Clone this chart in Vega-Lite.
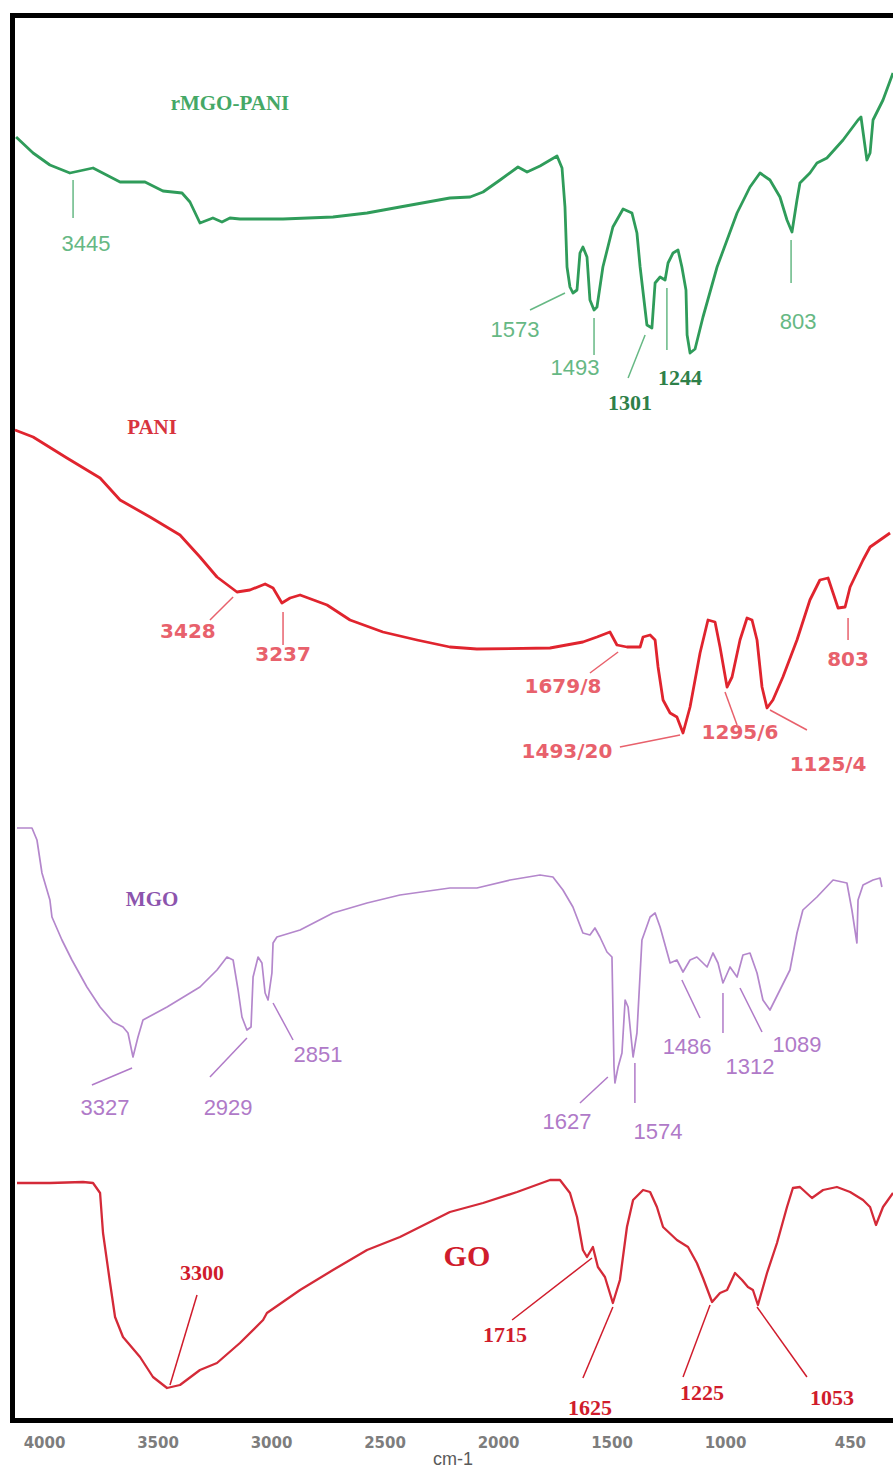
{
  "$schema": "https://vega.github.io/schema/vega-lite/v6.json",
  "width": 881,
  "height": 1405,
  "autosize": {"type": "none"},
  "padding": {"left": 12, "top": 15, "right": 0, "bottom": 48},
  "background": "white",
  "config": {
    "view": {"stroke": null},
    "axisY": {"labels": false, "ticks": false, "grid": false, "domainColor": "#000000", "domainWidth": 5, "domainCap": "square"}
  },
  "resolve": {"axis": {"x": "independent"}},
  "datasets": {
    "spectra": [
      {"sample": "rMGO-PANI", "wavenumber": 4123, "T": 128.3},
      {"sample": "rMGO-PANI", "wavenumber": 4048, "T": 126.7},
      {"sample": "rMGO-PANI", "wavenumber": 3974, "T": 125.5},
      {"sample": "rMGO-PANI", "wavenumber": 3886, "T": 124.7},
      {"sample": "rMGO-PANI", "wavenumber": 3784, "T": 125.2},
      {"sample": "rMGO-PANI", "wavenumber": 3665, "T": 123.8},
      {"sample": "rMGO-PANI", "wavenumber": 3555, "T": 123.8},
      {"sample": "rMGO-PANI", "wavenumber": 3476, "T": 122.9},
      {"sample": "rMGO-PANI", "wavenumber": 3392, "T": 122.7},
      {"sample": "rMGO-PANI", "wavenumber": 3357, "T": 121.8},
      {"sample": "rMGO-PANI", "wavenumber": 3313, "T": 119.7},
      {"sample": "rMGO-PANI", "wavenumber": 3256, "T": 120.2},
      {"sample": "rMGO-PANI", "wavenumber": 3216, "T": 119.8},
      {"sample": "rMGO-PANI", "wavenumber": 3181, "T": 120.2},
      {"sample": "rMGO-PANI", "wavenumber": 3137, "T": 120.1},
      {"sample": "rMGO-PANI", "wavenumber": 2947, "T": 120.1},
      {"sample": "rMGO-PANI", "wavenumber": 2727, "T": 120.3},
      {"sample": "rMGO-PANI", "wavenumber": 2577, "T": 120.7},
      {"sample": "rMGO-PANI", "wavenumber": 2432, "T": 121.3},
      {"sample": "rMGO-PANI", "wavenumber": 2212, "T": 122.2},
      {"sample": "rMGO-PANI", "wavenumber": 2123, "T": 122.3},
      {"sample": "rMGO-PANI", "wavenumber": 2066, "T": 122.8},
      {"sample": "rMGO-PANI", "wavenumber": 1991, "T": 124.0},
      {"sample": "rMGO-PANI", "wavenumber": 1912, "T": 125.3},
      {"sample": "rMGO-PANI", "wavenumber": 1872, "T": 124.8},
      {"sample": "rMGO-PANI", "wavenumber": 1815, "T": 125.4},
      {"sample": "rMGO-PANI", "wavenumber": 1740, "T": 126.4},
      {"sample": "rMGO-PANI", "wavenumber": 1718, "T": 125.2},
      {"sample": "rMGO-PANI", "wavenumber": 1705, "T": 121.3},
      {"sample": "rMGO-PANI", "wavenumber": 1696, "T": 115.3},
      {"sample": "rMGO-PANI", "wavenumber": 1683, "T": 113.3},
      {"sample": "rMGO-PANI", "wavenumber": 1670, "T": 112.7},
      {"sample": "rMGO-PANI", "wavenumber": 1652, "T": 113.0},
      {"sample": "rMGO-PANI", "wavenumber": 1639, "T": 116.7},
      {"sample": "rMGO-PANI", "wavenumber": 1626, "T": 117.3},
      {"sample": "rMGO-PANI", "wavenumber": 1608, "T": 116.3},
      {"sample": "rMGO-PANI", "wavenumber": 1595, "T": 112.0},
      {"sample": "rMGO-PANI", "wavenumber": 1577, "T": 111.0},
      {"sample": "rMGO-PANI", "wavenumber": 1564, "T": 111.3},
      {"sample": "rMGO-PANI", "wavenumber": 1538, "T": 115.3},
      {"sample": "rMGO-PANI", "wavenumber": 1494, "T": 119.3},
      {"sample": "rMGO-PANI", "wavenumber": 1449, "T": 121.1},
      {"sample": "rMGO-PANI", "wavenumber": 1410, "T": 120.7},
      {"sample": "rMGO-PANI", "wavenumber": 1388, "T": 118.7},
      {"sample": "rMGO-PANI", "wavenumber": 1374, "T": 115.3},
      {"sample": "rMGO-PANI", "wavenumber": 1344, "T": 109.5},
      {"sample": "rMGO-PANI", "wavenumber": 1322, "T": 109.2},
      {"sample": "rMGO-PANI", "wavenumber": 1308, "T": 113.7},
      {"sample": "rMGO-PANI", "wavenumber": 1286, "T": 114.3},
      {"sample": "rMGO-PANI", "wavenumber": 1264, "T": 114.0},
      {"sample": "rMGO-PANI", "wavenumber": 1251, "T": 115.7},
      {"sample": "rMGO-PANI", "wavenumber": 1229, "T": 116.7},
      {"sample": "rMGO-PANI", "wavenumber": 1207, "T": 117.0},
      {"sample": "rMGO-PANI", "wavenumber": 1190, "T": 115.3},
      {"sample": "rMGO-PANI", "wavenumber": 1172, "T": 113.0},
      {"sample": "rMGO-PANI", "wavenumber": 1167, "T": 108.5},
      {"sample": "rMGO-PANI", "wavenumber": 1154, "T": 106.7},
      {"sample": "rMGO-PANI", "wavenumber": 1132, "T": 107.1},
      {"sample": "rMGO-PANI", "wavenumber": 1097, "T": 110.3},
      {"sample": "rMGO-PANI", "wavenumber": 1035, "T": 115.3},
      {"sample": "rMGO-PANI", "wavenumber": 947, "T": 120.7},
      {"sample": "rMGO-PANI", "wavenumber": 890, "T": 123.3},
      {"sample": "rMGO-PANI", "wavenumber": 846, "T": 124.7},
      {"sample": "rMGO-PANI", "wavenumber": 802, "T": 124.0},
      {"sample": "rMGO-PANI", "wavenumber": 758, "T": 122.3},
      {"sample": "rMGO-PANI", "wavenumber": 727, "T": 120.0},
      {"sample": "rMGO-PANI", "wavenumber": 705, "T": 118.8},
      {"sample": "rMGO-PANI", "wavenumber": 683, "T": 122.0},
      {"sample": "rMGO-PANI", "wavenumber": 670, "T": 123.7},
      {"sample": "rMGO-PANI", "wavenumber": 626, "T": 124.7},
      {"sample": "rMGO-PANI", "wavenumber": 595, "T": 125.7},
      {"sample": "rMGO-PANI", "wavenumber": 551, "T": 126.2},
      {"sample": "rMGO-PANI", "wavenumber": 480, "T": 128.0},
      {"sample": "rMGO-PANI", "wavenumber": 414, "T": 130.0},
      {"sample": "rMGO-PANI", "wavenumber": 401, "T": 130.3},
      {"sample": "rMGO-PANI", "wavenumber": 375, "T": 126.0},
      {"sample": "rMGO-PANI", "wavenumber": 361, "T": 126.7},
      {"sample": "rMGO-PANI", "wavenumber": 348, "T": 130.0},
      {"sample": "rMGO-PANI", "wavenumber": 304, "T": 132.0},
      {"sample": "rMGO-PANI", "wavenumber": 260, "T": 134.7},

      {"sample": "PANI", "wavenumber": 4128, "T": 99.0},
      {"sample": "PANI", "wavenumber": 4048, "T": 98.3},
      {"sample": "PANI", "wavenumber": 3899, "T": 96.2},
      {"sample": "PANI", "wavenumber": 3753, "T": 94.2},
      {"sample": "PANI", "wavenumber": 3665, "T": 92.0},
      {"sample": "PANI", "wavenumber": 3533, "T": 90.3},
      {"sample": "PANI", "wavenumber": 3401, "T": 88.5},
      {"sample": "PANI", "wavenumber": 3313, "T": 86.3},
      {"sample": "PANI", "wavenumber": 3238, "T": 84.3},
      {"sample": "PANI", "wavenumber": 3150, "T": 82.8},
      {"sample": "PANI", "wavenumber": 3093, "T": 83.0},
      {"sample": "PANI", "wavenumber": 3026, "T": 83.6},
      {"sample": "PANI", "wavenumber": 2991, "T": 83.2},
      {"sample": "PANI", "wavenumber": 2952, "T": 81.7},
      {"sample": "PANI", "wavenumber": 2916, "T": 82.2},
      {"sample": "PANI", "wavenumber": 2872, "T": 82.5},
      {"sample": "PANI", "wavenumber": 2753, "T": 81.5},
      {"sample": "PANI", "wavenumber": 2652, "T": 80.0},
      {"sample": "PANI", "wavenumber": 2507, "T": 78.8},
      {"sample": "PANI", "wavenumber": 2357, "T": 78.0},
      {"sample": "PANI", "wavenumber": 2212, "T": 77.3},
      {"sample": "PANI", "wavenumber": 2093, "T": 77.1},
      {"sample": "PANI", "wavenumber": 1771, "T": 77.2},
      {"sample": "PANI", "wavenumber": 1626, "T": 77.8},
      {"sample": "PANI", "wavenumber": 1564, "T": 78.3},
      {"sample": "PANI", "wavenumber": 1507, "T": 78.8},
      {"sample": "PANI", "wavenumber": 1476, "T": 77.5},
      {"sample": "PANI", "wavenumber": 1432, "T": 77.3},
      {"sample": "PANI", "wavenumber": 1374, "T": 77.3},
      {"sample": "PANI", "wavenumber": 1361, "T": 78.3},
      {"sample": "PANI", "wavenumber": 1330, "T": 78.5},
      {"sample": "PANI", "wavenumber": 1308, "T": 78.0},
      {"sample": "PANI", "wavenumber": 1295, "T": 75.3},
      {"sample": "PANI", "wavenumber": 1273, "T": 72.0},
      {"sample": "PANI", "wavenumber": 1242, "T": 70.7},
      {"sample": "PANI", "wavenumber": 1212, "T": 70.3},
      {"sample": "PANI", "wavenumber": 1185, "T": 68.7},
      {"sample": "PANI", "wavenumber": 1154, "T": 71.3},
      {"sample": "PANI", "wavenumber": 1110, "T": 76.7},
      {"sample": "PANI", "wavenumber": 1075, "T": 80.0},
      {"sample": "PANI", "wavenumber": 1044, "T": 79.8},
      {"sample": "PANI", "wavenumber": 1022, "T": 77.3},
      {"sample": "PANI", "wavenumber": 991, "T": 73.3},
      {"sample": "PANI", "wavenumber": 969, "T": 74.3},
      {"sample": "PANI", "wavenumber": 934, "T": 78.0},
      {"sample": "PANI", "wavenumber": 903, "T": 80.2},
      {"sample": "PANI", "wavenumber": 881, "T": 80.0},
      {"sample": "PANI", "wavenumber": 859, "T": 78.0},
      {"sample": "PANI", "wavenumber": 837, "T": 73.3},
      {"sample": "PANI", "wavenumber": 815, "T": 71.2},
      {"sample": "PANI", "wavenumber": 789, "T": 72.0},
      {"sample": "PANI", "wavenumber": 745, "T": 74.3},
      {"sample": "PANI", "wavenumber": 683, "T": 78.0},
      {"sample": "PANI", "wavenumber": 626, "T": 82.0},
      {"sample": "PANI", "wavenumber": 582, "T": 84.0},
      {"sample": "PANI", "wavenumber": 546, "T": 84.2},
      {"sample": "PANI", "wavenumber": 524, "T": 82.7},
      {"sample": "PANI", "wavenumber": 502, "T": 81.2},
      {"sample": "PANI", "wavenumber": 471, "T": 81.3},
      {"sample": "PANI", "wavenumber": 449, "T": 83.3},
      {"sample": "PANI", "wavenumber": 392, "T": 86.0},
      {"sample": "PANI", "wavenumber": 361, "T": 87.3},
      {"sample": "PANI", "wavenumber": 317, "T": 88.0},
      {"sample": "PANI", "wavenumber": 273, "T": 88.7},

      {"sample": "MGO", "wavenumber": 4119, "T": 59.2},
      {"sample": "MGO", "wavenumber": 4053, "T": 59.2},
      {"sample": "MGO", "wavenumber": 4031, "T": 58.0},
      {"sample": "MGO", "wavenumber": 4009, "T": 54.7},
      {"sample": "MGO", "wavenumber": 3974, "T": 52.0},
      {"sample": "MGO", "wavenumber": 3965, "T": 50.3},
      {"sample": "MGO", "wavenumber": 3921, "T": 48.0},
      {"sample": "MGO", "wavenumber": 3877, "T": 46.0},
      {"sample": "MGO", "wavenumber": 3811, "T": 43.3},
      {"sample": "MGO", "wavenumber": 3753, "T": 41.3},
      {"sample": "MGO", "wavenumber": 3696, "T": 39.8},
      {"sample": "MGO", "wavenumber": 3652, "T": 39.3},
      {"sample": "MGO", "wavenumber": 3630, "T": 38.7},
      {"sample": "MGO", "wavenumber": 3608, "T": 36.3},
      {"sample": "MGO", "wavenumber": 3586, "T": 38.3},
      {"sample": "MGO", "wavenumber": 3564, "T": 40.0},
      {"sample": "MGO", "wavenumber": 3458, "T": 41.3},
      {"sample": "MGO", "wavenumber": 3313, "T": 43.3},
      {"sample": "MGO", "wavenumber": 3238, "T": 45.0},
      {"sample": "MGO", "wavenumber": 3194, "T": 46.3},
      {"sample": "MGO", "wavenumber": 3167, "T": 46.0},
      {"sample": "MGO", "wavenumber": 3145, "T": 43.0},
      {"sample": "MGO", "wavenumber": 3128, "T": 40.3},
      {"sample": "MGO", "wavenumber": 3106, "T": 39.0},
      {"sample": "MGO", "wavenumber": 3088, "T": 39.3},
      {"sample": "MGO", "wavenumber": 3079, "T": 44.3},
      {"sample": "MGO", "wavenumber": 3057, "T": 46.3},
      {"sample": "MGO", "wavenumber": 3040, "T": 45.7},
      {"sample": "MGO", "wavenumber": 3026, "T": 42.7},
      {"sample": "MGO", "wavenumber": 3013, "T": 42.0},
      {"sample": "MGO", "wavenumber": 2996, "T": 44.7},
      {"sample": "MGO", "wavenumber": 2991, "T": 47.7},
      {"sample": "MGO", "wavenumber": 2974, "T": 48.3},
      {"sample": "MGO", "wavenumber": 2872, "T": 49.0},
      {"sample": "MGO", "wavenumber": 2727, "T": 50.7},
      {"sample": "MGO", "wavenumber": 2577, "T": 51.7},
      {"sample": "MGO", "wavenumber": 2432, "T": 52.5},
      {"sample": "MGO", "wavenumber": 2212, "T": 53.2},
      {"sample": "MGO", "wavenumber": 2093, "T": 53.2},
      {"sample": "MGO", "wavenumber": 1947, "T": 54.0},
      {"sample": "MGO", "wavenumber": 1815, "T": 54.5},
      {"sample": "MGO", "wavenumber": 1758, "T": 54.3},
      {"sample": "MGO", "wavenumber": 1714, "T": 53.0},
      {"sample": "MGO", "wavenumber": 1670, "T": 51.3},
      {"sample": "MGO", "wavenumber": 1626, "T": 48.7},
      {"sample": "MGO", "wavenumber": 1595, "T": 48.5},
      {"sample": "MGO", "wavenumber": 1573, "T": 49.2},
      {"sample": "MGO", "wavenumber": 1551, "T": 48.3},
      {"sample": "MGO", "wavenumber": 1520, "T": 46.8},
      {"sample": "MGO", "wavenumber": 1498, "T": 46.3},
      {"sample": "MGO", "wavenumber": 1494, "T": 41.3},
      {"sample": "MGO", "wavenumber": 1489, "T": 35.3},
      {"sample": "MGO", "wavenumber": 1485, "T": 33.7},
      {"sample": "MGO", "wavenumber": 1471, "T": 35.3},
      {"sample": "MGO", "wavenumber": 1454, "T": 36.7},
      {"sample": "MGO", "wavenumber": 1440, "T": 42.0},
      {"sample": "MGO", "wavenumber": 1427, "T": 41.3},
      {"sample": "MGO", "wavenumber": 1405, "T": 36.3},
      {"sample": "MGO", "wavenumber": 1388, "T": 38.7},
      {"sample": "MGO", "wavenumber": 1366, "T": 48.0},
      {"sample": "MGO", "wavenumber": 1330, "T": 50.3},
      {"sample": "MGO", "wavenumber": 1308, "T": 50.7},
      {"sample": "MGO", "wavenumber": 1286, "T": 49.3},
      {"sample": "MGO", "wavenumber": 1242, "T": 45.7},
      {"sample": "MGO", "wavenumber": 1212, "T": 46.0},
      {"sample": "MGO", "wavenumber": 1185, "T": 44.8},
      {"sample": "MGO", "wavenumber": 1154, "T": 46.0},
      {"sample": "MGO", "wavenumber": 1124, "T": 46.3},
      {"sample": "MGO", "wavenumber": 1079, "T": 45.3},
      {"sample": "MGO", "wavenumber": 1053, "T": 46.7},
      {"sample": "MGO", "wavenumber": 1031, "T": 45.7},
      {"sample": "MGO", "wavenumber": 1009, "T": 43.7},
      {"sample": "MGO", "wavenumber": 978, "T": 45.3},
      {"sample": "MGO", "wavenumber": 947, "T": 44.3},
      {"sample": "MGO", "wavenumber": 921, "T": 46.5},
      {"sample": "MGO", "wavenumber": 890, "T": 46.7},
      {"sample": "MGO", "wavenumber": 859, "T": 44.7},
      {"sample": "MGO", "wavenumber": 833, "T": 42.0},
      {"sample": "MGO", "wavenumber": 802, "T": 41.0},
      {"sample": "MGO", "wavenumber": 758, "T": 43.0},
      {"sample": "MGO", "wavenumber": 714, "T": 45.0},
      {"sample": "MGO", "wavenumber": 683, "T": 48.7},
      {"sample": "MGO", "wavenumber": 657, "T": 51.0},
      {"sample": "MGO", "wavenumber": 595, "T": 52.3},
      {"sample": "MGO", "wavenumber": 524, "T": 54.0},
      {"sample": "MGO", "wavenumber": 463, "T": 53.7},
      {"sample": "MGO", "wavenumber": 441, "T": 51.0},
      {"sample": "MGO", "wavenumber": 419, "T": 47.7},
      {"sample": "MGO", "wavenumber": 414, "T": 52.0},
      {"sample": "MGO", "wavenumber": 392, "T": 53.5},
      {"sample": "MGO", "wavenumber": 348, "T": 54.0},
      {"sample": "MGO", "wavenumber": 317, "T": 54.2},
      {"sample": "MGO", "wavenumber": 309, "T": 53.3},

      {"sample": "GO", "wavenumber": 4119, "T": 23.7},
      {"sample": "GO", "wavenumber": 3974, "T": 23.7},
      {"sample": "GO", "wavenumber": 3828, "T": 23.8},
      {"sample": "GO", "wavenumber": 3784, "T": 23.7},
      {"sample": "GO", "wavenumber": 3753, "T": 22.7},
      {"sample": "GO", "wavenumber": 3740, "T": 18.7},
      {"sample": "GO", "wavenumber": 3709, "T": 13.7},
      {"sample": "GO", "wavenumber": 3687, "T": 10.3},
      {"sample": "GO", "wavenumber": 3652, "T": 8.3},
      {"sample": "GO", "wavenumber": 3577, "T": 6.3},
      {"sample": "GO", "wavenumber": 3520, "T": 4.3},
      {"sample": "GO", "wavenumber": 3458, "T": 3.2},
      {"sample": "GO", "wavenumber": 3401, "T": 3.5},
      {"sample": "GO", "wavenumber": 3313, "T": 5.0},
      {"sample": "GO", "wavenumber": 3238, "T": 5.7},
      {"sample": "GO", "wavenumber": 3137, "T": 7.7},
      {"sample": "GO", "wavenumber": 3035, "T": 10.0},
      {"sample": "GO", "wavenumber": 3018, "T": 10.7},
      {"sample": "GO", "wavenumber": 2872, "T": 13.0},
      {"sample": "GO", "wavenumber": 2727, "T": 15.0},
      {"sample": "GO", "wavenumber": 2577, "T": 17.0},
      {"sample": "GO", "wavenumber": 2432, "T": 18.3},
      {"sample": "GO", "wavenumber": 2212, "T": 20.8},
      {"sample": "GO", "wavenumber": 2066, "T": 21.7},
      {"sample": "GO", "wavenumber": 1916, "T": 22.8},
      {"sample": "GO", "wavenumber": 1771, "T": 24.0},
      {"sample": "GO", "wavenumber": 1727, "T": 24.0},
      {"sample": "GO", "wavenumber": 1683, "T": 22.7},
      {"sample": "GO", "wavenumber": 1652, "T": 20.3},
      {"sample": "GO", "wavenumber": 1626, "T": 17.0},
      {"sample": "GO", "wavenumber": 1608, "T": 16.3},
      {"sample": "GO", "wavenumber": 1582, "T": 17.3},
      {"sample": "GO", "wavenumber": 1560, "T": 15.3},
      {"sample": "GO", "wavenumber": 1529, "T": 14.3},
      {"sample": "GO", "wavenumber": 1494, "T": 11.7},
      {"sample": "GO", "wavenumber": 1463, "T": 14.0},
      {"sample": "GO", "wavenumber": 1432, "T": 19.3},
      {"sample": "GO", "wavenumber": 1405, "T": 22.0},
      {"sample": "GO", "wavenumber": 1361, "T": 23.0},
      {"sample": "GO", "wavenumber": 1330, "T": 22.8},
      {"sample": "GO", "wavenumber": 1300, "T": 21.3},
      {"sample": "GO", "wavenumber": 1273, "T": 19.3},
      {"sample": "GO", "wavenumber": 1212, "T": 18.0},
      {"sample": "GO", "wavenumber": 1163, "T": 17.3},
      {"sample": "GO", "wavenumber": 1124, "T": 15.7},
      {"sample": "GO", "wavenumber": 1097, "T": 14.2},
      {"sample": "GO", "wavenumber": 1057, "T": 11.8},
      {"sample": "GO", "wavenumber": 1022, "T": 12.7},
      {"sample": "GO", "wavenumber": 991, "T": 13.0},
      {"sample": "GO", "wavenumber": 956, "T": 14.7},
      {"sample": "GO", "wavenumber": 925, "T": 14.0},
      {"sample": "GO", "wavenumber": 899, "T": 13.3},
      {"sample": "GO", "wavenumber": 877, "T": 13.0},
      {"sample": "GO", "wavenumber": 855, "T": 11.5},
      {"sample": "GO", "wavenumber": 815, "T": 14.7},
      {"sample": "GO", "wavenumber": 771, "T": 17.7},
      {"sample": "GO", "wavenumber": 727, "T": 21.3},
      {"sample": "GO", "wavenumber": 701, "T": 23.2},
      {"sample": "GO", "wavenumber": 670, "T": 23.3},
      {"sample": "GO", "wavenumber": 617, "T": 22.2},
      {"sample": "GO", "wavenumber": 568, "T": 23.0},
      {"sample": "GO", "wavenumber": 507, "T": 23.3},
      {"sample": "GO", "wavenumber": 449, "T": 22.8},
      {"sample": "GO", "wavenumber": 392, "T": 22.0},
      {"sample": "GO", "wavenumber": 361, "T": 21.3},
      {"sample": "GO", "wavenumber": 335, "T": 19.5},
      {"sample": "GO", "wavenumber": 304, "T": 21.3},
      {"sample": "GO", "wavenumber": 260, "T": 22.7}
    ],
    "names": [
      {"sample": "rMGO-PANI", "wavenumber": 3181, "T": 131.6},
      {"sample": "PANI", "wavenumber": 3524, "T": 99.2},
      {"sample": "MGO", "wavenumber": 3524, "T": 52.0},
      {"sample": "GO", "wavenumber": 2137, "T": 16.3}
    ],
    "peaks": [
      {"sample": "rMGO-PANI", "label": "3445", "wavenumber": 3815, "T": 117.6},
      {"sample": "rMGO-PANI", "label": "1573", "wavenumber": 1925, "T": 109.0},
      {"sample": "rMGO-PANI", "label": "1493", "wavenumber": 1661, "T": 105.2},
      {"sample": "rMGO-PANI", "label": "1301", "wavenumber": 1419, "T": 101.7},
      {"sample": "rMGO-PANI", "label": "1244", "wavenumber": 1198, "T": 104.2},
      {"sample": "rMGO-PANI", "label": "803", "wavenumber": 678, "T": 109.8},
      {"sample": "PANI", "label": "3428", "wavenumber": 3366, "T": 78.8},
      {"sample": "PANI", "label": "3237", "wavenumber": 2947, "T": 76.5},
      {"sample": "PANI", "label": "1679/8", "wavenumber": 1714, "T": 73.3},
      {"sample": "PANI", "label": "1493/20", "wavenumber": 1696, "T": 66.8},
      {"sample": "PANI", "label": "1295/6", "wavenumber": 934, "T": 68.7},
      {"sample": "PANI", "label": "1125/4", "wavenumber": 546, "T": 65.5},
      {"sample": "PANI", "label": "803", "wavenumber": 458, "T": 76.0},
      {"sample": "MGO", "label": "3327", "wavenumber": 3731, "T": 31.2},
      {"sample": "MGO", "label": "2929", "wavenumber": 3189, "T": 31.2},
      {"sample": "MGO", "label": "2851", "wavenumber": 2793, "T": 36.5},
      {"sample": "MGO", "label": "1627", "wavenumber": 1696, "T": 29.8},
      {"sample": "MGO", "label": "1574", "wavenumber": 1295, "T": 28.8},
      {"sample": "MGO", "label": "1486", "wavenumber": 1167, "T": 37.3},
      {"sample": "MGO", "label": "1312", "wavenumber": 890, "T": 35.3},
      {"sample": "MGO", "label": "1089", "wavenumber": 683, "T": 37.5},
      {"sample": "GO", "label": "3300", "wavenumber": 3304, "T": 14.7},
      {"sample": "GO", "label": "1715", "wavenumber": 1969, "T": 8.5},
      {"sample": "GO", "label": "1625", "wavenumber": 1595, "T": 1.2},
      {"sample": "GO", "label": "1225", "wavenumber": 1101, "T": 2.7},
      {"sample": "GO", "label": "1053", "wavenumber": 529, "T": 2.2}
    ],
    "leaders": [
      {"sample": "rMGO-PANI", "wavenumber": 3872, "T": 124.0, "wavenumber2": 3872, "T2": 120.2},
      {"sample": "rMGO-PANI", "wavenumber": 1859, "T": 111.0, "wavenumber2": 1705, "T2": 112.7},
      {"sample": "rMGO-PANI", "wavenumber": 1577, "T": 110.2, "wavenumber2": 1577, "T2": 106.5},
      {"sample": "rMGO-PANI", "wavenumber": 1427, "T": 104.2, "wavenumber2": 1352, "T2": 108.5},
      {"sample": "rMGO-PANI", "wavenumber": 1256, "T": 113.2, "wavenumber2": 1256, "T2": 107.0},
      {"sample": "rMGO-PANI", "wavenumber": 709, "T": 118.0, "wavenumber2": 709, "T2": 113.7},
      {"sample": "PANI", "wavenumber": 3269, "T": 80.0, "wavenumber2": 3167, "T2": 82.3},
      {"sample": "PANI", "wavenumber": 2947, "T": 80.8, "wavenumber2": 2947, "T2": 77.5},
      {"sample": "PANI", "wavenumber": 1595, "T": 74.7, "wavenumber2": 1471, "T2": 76.8},
      {"sample": "PANI", "wavenumber": 1463, "T": 67.3, "wavenumber2": 1198, "T2": 68.5},
      {"sample": "PANI", "wavenumber": 1000, "T": 72.8, "wavenumber2": 947, "T2": 69.5},
      {"sample": "PANI", "wavenumber": 802, "T": 71.0, "wavenumber2": 639, "T2": 69.0},
      {"sample": "PANI", "wavenumber": 458, "T": 80.2, "wavenumber2": 458, "T2": 78.0},
      {"sample": "MGO", "wavenumber": 3789, "T": 33.5, "wavenumber2": 3612, "T2": 35.2},
      {"sample": "MGO", "wavenumber": 3269, "T": 34.3, "wavenumber2": 3106, "T2": 38.2},
      {"sample": "MGO", "wavenumber": 2991, "T": 41.7, "wavenumber2": 2903, "T2": 38.0},
      {"sample": "MGO", "wavenumber": 1639, "T": 31.7, "wavenumber2": 1516, "T2": 34.3},
      {"sample": "MGO", "wavenumber": 1397, "T": 35.7, "wavenumber2": 1397, "T2": 31.7},
      {"sample": "MGO", "wavenumber": 1190, "T": 44.0, "wavenumber2": 1110, "T2": 40.2},
      {"sample": "MGO", "wavenumber": 1009, "T": 42.7, "wavenumber2": 1009, "T2": 38.7},
      {"sample": "MGO", "wavenumber": 934, "T": 43.2, "wavenumber2": 837, "T2": 38.8},
      {"sample": "GO", "wavenumber": 3445, "T": 3.5, "wavenumber2": 3326, "T2": 12.5},
      {"sample": "GO", "wavenumber": 1938, "T": 10.0, "wavenumber2": 1586, "T2": 16.2},
      {"sample": "GO", "wavenumber": 1626, "T": 4.2, "wavenumber2": 1494, "T2": 11.3},
      {"sample": "GO", "wavenumber": 1185, "T": 4.3, "wavenumber2": 1066, "T2": 11.5},
      {"sample": "GO", "wavenumber": 859, "T": 11.3, "wavenumber2": 639, "T2": 4.3}
    ]
  },
  "layer": [
    {
      "data": {"name": "spectra"},
      "transform": [{"filter": "datum.sample === 'rMGO-PANI'"}],
      "mark": {"type": "line", "color": "#2f9c5a", "strokeWidth": 2.8, "strokeJoin": "round"},
      "encoding": {
        "x": {"field": "wavenumber", "type": "quantitative",
              "scale": {"domain": [260, 4141], "reverse": true, "nice": false, "zero": false},
              "axis": {"orient": "bottom", "values": [4000, 3500, 3000, 2500, 2000, 1500, 1000, 450], "format": "d",
                       "labelFont": "DejaVu Sans", "labelFontWeight": "bold", "labelFontSize": 15, "labelColor": "#7d7d7d",
                       "labelPadding": 15, "labelFlush": false, "labelOverlap": false,
                       "ticks": false, "tickSize": 0, "grid": false,
                       "domainColor": "#000000", "domainWidth": 5, "domainCap": "square",
                       "title": "cm-1", "titleFont": "Liberation Sans", "titleFontSize": 18, "titleFontWeight": "normal",
                       "titleColor": "#5a5a5a", "titlePadding": 0}},
        "y": {"field": "T", "type": "quantitative", "title": null,
              "scale": {"domain": [0, 140.5], "nice": false, "zero": false}}
      }
    },
    {
      "data": {"name": "spectra"},
      "transform": [{"filter": "datum.sample === 'PANI'"}],
      "mark": {"type": "line", "color": "#e0242e", "strokeWidth": 2.8, "strokeJoin": "round"},
      "encoding": {
        "x": {"field": "wavenumber", "type": "quantitative",
              "scale": {"domain": [260, 4141], "reverse": true, "nice": false, "zero": false},
              "axis": {"orient": "top", "labels": false, "ticks": false, "grid": false, "title": null,
                       "domainColor": "#000000", "domainWidth": 5, "domainCap": "square"}},
        "y": {"field": "T", "type": "quantitative", "title": null,
              "scale": {"domain": [0, 140.5], "nice": false, "zero": false}}
      }
    },
    {
      "data": {"name": "spectra"},
      "transform": [{"filter": "datum.sample === 'MGO'"}],
      "mark": {"type": "line", "color": "#b487cc", "strokeWidth": 1.7, "strokeJoin": "round"},
      "encoding": {
        "x": {"field": "wavenumber", "type": "quantitative", "axis": null,
              "scale": {"domain": [260, 4141], "reverse": true, "nice": false, "zero": false}},
        "y": {"field": "T", "type": "quantitative", "title": null,
              "scale": {"domain": [0, 140.5], "nice": false, "zero": false}}
      }
    },
    {
      "data": {"name": "spectra"},
      "transform": [{"filter": "datum.sample === 'GO'"}],
      "mark": {"type": "line", "color": "#d42a38", "strokeWidth": 2.3, "strokeJoin": "round"},
      "encoding": {
        "x": {"field": "wavenumber", "type": "quantitative", "axis": null,
              "scale": {"domain": [260, 4141], "reverse": true, "nice": false, "zero": false}},
        "y": {"field": "T", "type": "quantitative", "title": null,
              "scale": {"domain": [0, 140.5], "nice": false, "zero": false}}
      }
    },
    {
      "data": {"name": "leaders"},
      "mark": {"type": "rule", "strokeWidth": 1.5},
      "encoding": {
        "x": {"field": "wavenumber", "type": "quantitative", "axis": null,
              "scale": {"domain": [260, 4141], "reverse": true, "nice": false, "zero": false}},
        "x2": {"field": "wavenumber2"},
        "y": {"field": "T", "type": "quantitative", "title": null,
              "scale": {"domain": [0, 140.5], "nice": false, "zero": false}},
        "y2": {"field": "T2"},
        "color": {"field": "sample", "type": "nominal", "legend": null,
                  "scale": {"domain": ["rMGO-PANI", "PANI", "MGO", "GO"], "range": ["#66b884", "#e8616c", "#b07ac8", "#d01c2c"]}}
      }
    },
    {
      "data": {"name": "names"},
      "mark": {"type": "text", "font": "Liberation Serif", "fontWeight": "bold", "align": "center", "baseline": "middle"},
      "encoding": {
        "x": {"field": "wavenumber", "type": "quantitative", "axis": null,
              "scale": {"domain": [260, 4141], "reverse": true, "nice": false, "zero": false}},
        "y": {"field": "T", "type": "quantitative", "title": null,
              "scale": {"domain": [0, 140.5], "nice": false, "zero": false}},
        "text": {"field": "sample"},
        "size": {"condition": {"test": "datum.sample === 'GO'", "value": 30}, "value": 21},
        "color": {"condition": [
                    {"test": "datum.sample === 'rMGO-PANI'", "value": "#45a866"},
                    {"test": "datum.sample === 'PANI'", "value": "#d8333e"},
                    {"test": "datum.sample === 'MGO'", "value": "#8c54ad"}],
                  "value": "#d01c2c"}
      }
    },
    {
      "data": {"name": "peaks"},
      "transform": [{"filter": "(datum.sample === 'rMGO-PANI' && datum.label !== '1301' && datum.label !== '1244') || datum.sample === 'MGO'"}],
      "mark": {"type": "text", "font": "Liberation Sans", "fontSize": 22, "align": "center", "baseline": "middle"},
      "encoding": {
        "x": {"field": "wavenumber", "type": "quantitative", "axis": null,
              "scale": {"domain": [260, 4141], "reverse": true, "nice": false, "zero": false}},
        "y": {"field": "T", "type": "quantitative", "title": null,
              "scale": {"domain": [0, 140.5], "nice": false, "zero": false}},
        "text": {"field": "label"},
        "color": {"field": "sample", "type": "nominal", "legend": null,
                  "scale": {"domain": ["rMGO-PANI", "PANI", "MGO", "GO"], "range": ["#66b884", "#e8616c", "#b07ac8", "#d01c2c"]}}
      }
    },
    {
      "data": {"name": "peaks"},
      "transform": [{"filter": "datum.sample === 'PANI'"}],
      "mark": {"type": "text", "font": "DejaVu Sans", "fontWeight": "bold", "fontSize": 20, "align": "center", "baseline": "middle"},
      "encoding": {
        "x": {"field": "wavenumber", "type": "quantitative", "axis": null,
              "scale": {"domain": [260, 4141], "reverse": true, "nice": false, "zero": false}},
        "y": {"field": "T", "type": "quantitative", "title": null,
              "scale": {"domain": [0, 140.5], "nice": false, "zero": false}},
        "text": {"field": "label"},
        "color": {"field": "sample", "type": "nominal", "legend": null,
                  "scale": {"domain": ["rMGO-PANI", "PANI", "MGO", "GO"], "range": ["#66b884", "#e8616c", "#b07ac8", "#d01c2c"]}}
      }
    },
    {
      "data": {"name": "peaks"},
      "transform": [{"filter": "datum.sample === 'GO' || datum.label === '1301' || datum.label === '1244'"}],
      "mark": {"type": "text", "font": "Liberation Serif", "fontWeight": "bold", "fontSize": 22, "align": "center", "baseline": "middle"},
      "encoding": {
        "x": {"field": "wavenumber", "type": "quantitative", "axis": null,
              "scale": {"domain": [260, 4141], "reverse": true, "nice": false, "zero": false}},
        "y": {"field": "T", "type": "quantitative", "title": null,
              "scale": {"domain": [0, 140.5], "nice": false, "zero": false}},
        "text": {"field": "label"},
        "color": {"condition": {"test": "datum.sample === 'GO'", "value": "#d01c2c"}, "value": "#2e8049"}
      }
    }
  ]
}
